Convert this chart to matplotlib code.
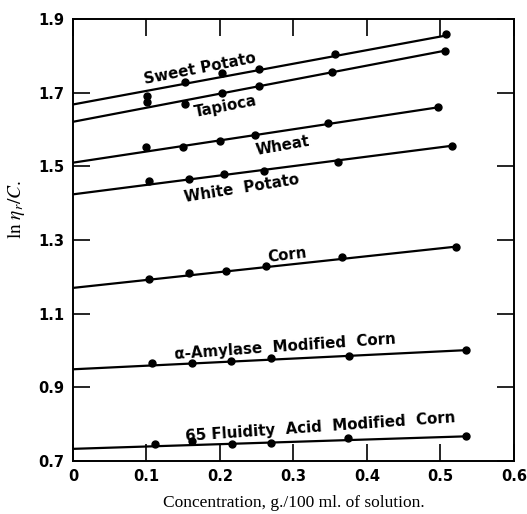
import matplotlib.pyplot as plt

plt.rcParams['mathtext.fontset'] = 'stix'

# measured points, concentration g/100 ml
sweet_c = [0.101, 0.153, 0.203, 0.253, 0.356, 0.507]
sweet_v = [1.690, 1.728, 1.754, 1.764, 1.805, 1.859]
tapioca_c = [0.101, 0.153, 0.203, 0.253, 0.353, 0.506]
tapioca_v = [1.675, 1.668, 1.700, 1.719, 1.757, 1.814]
wheat_c = [0.100, 0.149, 0.200, 0.248, 0.347, 0.496]
wheat_v = [1.553, 1.553, 1.569, 1.586, 1.617, 1.660]
white_c = [0.104, 0.158, 0.205, 0.260, 0.361, 0.516]
white_v = [1.460, 1.466, 1.478, 1.487, 1.511, 1.556]
corn_c = [0.104, 0.158, 0.208, 0.262, 0.366, 0.521]
corn_v = [1.193, 1.210, 1.217, 1.229, 1.253, 1.282]
amyl_c = [0.108, 0.162, 0.215, 0.269, 0.376, 0.535]
amyl_v = [0.966, 0.965, 0.972, 0.979, 0.986, 1.001]
fluid_c = [0.112, 0.162, 0.216, 0.269, 0.374, 0.535]
fluid_v = [0.745, 0.754, 0.746, 0.748, 0.762, 0.768]

# fitted straight lines: (c_start, v_start, c_end, v_end)
sweet_fit = [0.0, 1.668, 0.507, 1.855]
tapioca_fit = [0.0, 1.621, 0.506, 1.814]
wheat_fit = [0.0, 1.510, 0.496, 1.660]
white_fit = [0.0, 1.424, 0.516, 1.556]
corn_fit = [0.0, 1.170, 0.521, 1.282]
amyl_fit = [0.0, 0.949, 0.535, 1.001]
fluid_fit = [0.0, 0.733, 0.535, 0.767]

labels = ['Sweet Potato', 'Tapioca', 'Wheat', 'White  Potato', 'Corn',
          'α-Amylase  Modified  Corn', '65 Fluidity  Acid  Modified  Corn']
label_pos = [(0.173, 1.766), (0.207, 1.661), (0.285, 1.556), (0.230, 1.441),
             (0.291, 1.259), (0.288, 1.010), (0.336, 0.792)]
label_rot = [11, 11, 10, 9, 7, 4, 4]

xticks = [0, 0.1, 0.2, 0.3, 0.4, 0.5, 0.6]
xticklabels = ['0', '0.1', '0.2', '0.3', '0.4', '0.5', '0.6']
yticks = [0.7, 0.9, 1.1, 1.3, 1.5, 1.7, 1.9]
yticklabels = ['0.7', '0.9', '1.1', '1.3', '1.5', '1.7', '1.9']

series = [(sweet_c, sweet_v, sweet_fit), (tapioca_c, tapioca_v, tapioca_fit),
          (wheat_c, wheat_v, wheat_fit), (white_c, white_v, white_fit),
          (corn_c, corn_v, corn_fit), (amyl_c, amyl_v, amyl_fit),
          (fluid_c, fluid_v, fluid_fit)]

fig = plt.figure(figsize=(5.27, 5.14), dpi=100)
ax = fig.add_axes([0.1385, 0.1031, 0.8368, 0.8599])

for c, v, fit in series:
    ax.plot([fit[0], fit[2]], [fit[1], fit[3]], color='black', lw=1.6)
    ax.plot(c, v, 'o', color='black', ms=5)

for txt, (x, y), rot in zip(labels, label_pos, label_rot):
    ax.text(x, y, txt, rotation=rot, ha='center', va='center',
            fontsize=10.8, fontweight='bold', family='DejaVu Sans',
            rotation_mode='anchor')

ax.set_xlim(0, 0.6)
ax.set_ylim(0.7, 1.9)
ax.set_xticks(xticks)
ax.set_xticklabels(xticklabels)
ax.set_yticks(yticks)
ax.set_yticklabels(yticklabels)
ax.tick_params(direction='in', length=12, width=1.2, top=True, right=True,
               labelsize=10.5, pad=6)
for lab in ax.get_xticklabels() + ax.get_yticklabels():
    lab.set_fontweight('bold')
for s in ax.spines.values():
    s.set_linewidth(1.4)

ax.set_xlabel('Concentration, g./100 ml. of solution.', family='Liberation Serif',
              fontsize=12.5, labelpad=8)
ax.set_ylabel(r'$\mathrm{ln}\ \eta_r/C.$', fontsize=14, labelpad=10)
ax.yaxis.set_label_coords(-0.105, 0.57)

fig.savefig('out.png', dpi=100)
